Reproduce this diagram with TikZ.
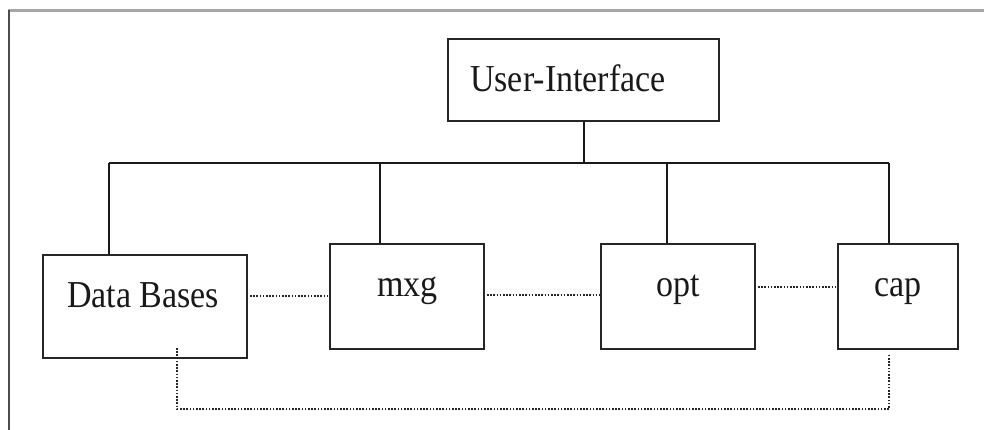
\documentclass[tikz,border=0pt]{standalone}
\usepackage{fontspec}
\setmainfont{Liberation Serif}
\begin{document}
\begin{tikzpicture}[x=1pt,y=-1pt,
  box/.style={draw=black!85,line width=2pt,rectangle,anchor=north west,inner sep=0pt},
  lbl/.style={anchor=base west,inner sep=0pt,font=\fontsize{34}{40}\selectfont,text=black!90},
  link/.style={line width=2pt,draw=black!90},
  dotline/.style={line width=1.7pt,draw=black!85,dash pattern=on 1.6pt off 1.6pt}]
\useasboundingbox (0,0) rectangle (984,430);
% frame
\draw[gray!70,line width=2.5pt] (8,10.5) -- (984,10.5);
\draw[black!70,line width=2pt] (9,10) -- (9,430);
% boxes
\node[box,minimum width=271pt,minimum height=82pt] (ui) at (447,38) {};
\node[box,minimum width=204pt,minimum height=103pt] (db) at (42,254) {};
\node[box,minimum width=154pt,minimum height=105pt] (mxg) at (329,243) {};
\node[box,minimum width=154pt,minimum height=105pt] (opt) at (600,243) {};
\node[box,minimum width=120pt,minimum height=105pt] (cap) at (837,243) {};
% labels
\node[lbl] (tui) at (470,92) {\scalebox{1}[1.12]{User-Interface}};
\node[lbl] (tdb) at (67,307) {\scalebox{1}[1.12]{Data Bases}};
\node[lbl] (tmxg) at (377,296) {\scalebox{1}[1.12]{mxg}};
\node[lbl] (topt) at (656,296) {\scalebox{1}[1.12]{opt}};
\node[lbl] (tcap) at (874,296) {\scalebox{1}[1.12]{cap}};
% bus
\coordinate (b1) at (109,163);
\coordinate (b2) at (380,163);
\coordinate (b3) at (667,163);
\coordinate (b4) at (889,163);
\draw[link] (ui.south) -- (ui.south |- b1);
\draw[link] (b1) -- (b4);
\draw[link] (b1) -- (db.north -| b1);
\draw[link] (b2) -- (mxg.north -| b2);
\draw[link] (b3) -- (opt.north -| b3);
\draw[link] (b4) -- (cap.north -| b4);
% dotted links
\draw[dotline] ([xshift=2pt,yshift=10.5pt]db.east) -- ([yshift=10.5pt]db.east -| mxg.west);
\draw[dotline] ([xshift=2pt,yshift=1.5pt]mxg.east) -- ([yshift=1.5pt]opt.west);
\draw[dotline] ([xshift=2pt,yshift=9.5pt]opt.east) -- ([yshift=9.5pt]opt.east -| cap.west);
\coordinate (l1) at (177,409);
\coordinate (l2) at (889,409);
\draw[dotline] ([yshift=11pt]db.south -| l1) -- (l1) -- (l2) -- ([yshift=-4pt]cap.south -| l2);
\end{tikzpicture}
\end{document}
